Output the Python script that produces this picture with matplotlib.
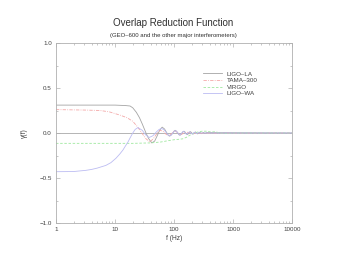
import matplotlib
matplotlib.use("Agg")
import matplotlib.pyplot as plt
from matplotlib.ticker import FixedLocator, FixedFormatter

plt.rcParams['font.family'] = ['Liberation Sans', 'DejaVu Sans']

# LIGO-LA
f_la = [1, 5, 10, 15, 18, 20, 23, 26, 29, 33.5, 37, 42, 47, 52, 57, 63, 69, 75, 80, 84, 89, 95,
        100, 105, 110, 116, 121, 126, 131, 137, 142, 147, 152, 158, 163, 168, 173, 179, 184, 189,
        194, 200, 210, 220, 231, 241, 252, 262, 273, 283, 294, 304, 315, 325, 336, 346, 357, 10000]
g_la = [0.31, 0.31, 0.31, 0.305, 0.30, 0.28, 0.23, 0.17, 0.10, 0.0, -0.06, -0.11, -0.09, -0.03,
        0.03, 0.065, 0.045, 0.005, -0.025, -0.035, -0.025, 0.0, 0.02, 0.03, 0.02, 0.0, -0.018,
        -0.025, -0.018, 0.0, 0.015, 0.02, 0.014, 0.0, -0.012, -0.017, -0.012, 0.0, 0.011, 0.015,
        0.01, 0.0, -0.013, 0.0, 0.012, 0.0, -0.01, 0.0, 0.009, 0.0, -0.008, 0.0, 0.007, 0.0,
        -0.006, 0.0, 0.005, 0.0]

# TAMA-300
f_tama = [1, 3, 5.6, 8, 12, 16, 20, 24, 28.5, 33, 39, 45, 52, 58, 65, 72, 80, 90, 100, 110, 120,
          135, 150, 170, 190, 10000]
g_tama = [0.26, 0.255, 0.25, 0.235, 0.2, 0.17, 0.13, 0.07, 0.0, -0.06, -0.10, -0.06, 0.0, 0.03,
          0.02, -0.01, -0.03, -0.01, 0.02, 0.015, -0.01, -0.015, 0.005, 0.008, -0.003, 0.0]

# VIRGO
f_virgo = [1, 20, 40, 60, 80, 100, 120, 140, 160, 180, 210, 250, 300, 360, 430, 500, 600, 800,
           1000, 10000]
g_virgo = [-0.115, -0.115, -0.11, -0.10, -0.085, -0.075, -0.07, -0.065, -0.05, -0.03, -0.005, 0.01,
           0.02, 0.02, 0.01, 0.015, 0.0, -0.005, 0.0, 0.0]

# LIGO-WA
f_wa = [1, 2, 3.2, 4, 5, 7, 8.5, 10.4, 12, 13.6, 15, 16.6, 18, 20, 22, 24.5, 29, 33, 38, 44, 50,
        56, 62, 68, 74, 80, 86, 92, 98, 104, 110, 116, 122, 128, 134, 140, 146, 152, 158, 164, 170,
        176, 182, 190, 198, 206, 214, 222, 232, 242, 252, 262, 272, 10000]
g_wa = [-0.43, -0.428, -0.415, -0.405, -0.39, -0.36, -0.33, -0.28, -0.235, -0.19, -0.145, -0.10,
        -0.055, 0.0, 0.04, 0.06, 0.03, -0.02, -0.05, -0.03, 0.01, 0.04, 0.05, 0.035, 0.005, -0.025,
        -0.03, -0.015, 0.01, 0.025, 0.02, 0.0, -0.02, -0.02, -0.005, 0.012, 0.017, 0.008, -0.008,
        -0.014, -0.008, 0.005, 0.012, 0.006, -0.008, -0.01, 0.0, 0.008, 0.0, -0.007, 0.0, 0.006,
        0.0, 0.0]

x_ticks = [1, 10, 100, 1000, 10000]
x_labels = ["1", "10", "100", "1000", "10000"]
y_ticks = [-1.0, -0.5, 0.0, 0.5, 1.0]
y_labels = ["\u22121.0", "\u22120.5", "0.0", "0.5", "1.0"]

fig = plt.figure(figsize=(3.39, 2.62), dpi=100)
ax = fig.add_axes([56/339, 1 - 223/262, (292-56)/339, (223-43)/262])

spine_c = '#b0b0b0'
ax.axhline(0, color='#a8a8a8', lw=0.6, zorder=1)
ax.plot(f_la, g_la, color='#a4a4a4', lw=0.6, label='LIGO\u2013LA')
ax.plot(f_tama, g_tama, color='#f4a8a8', lw=0.6, dashes=(4, 1.5, 1, 1.5), label='TAMA\u2013300')
ax.plot(f_virgo, g_virgo, color='#9ee89e', lw=0.6, dashes=(3, 2), label='VIRGO')
ax.plot(f_wa, g_wa, color='#bcbcf2', lw=0.6, label='LIGO\u2013WA')

ax.set_xscale('log')
ax.set_xlim(1, 10000)
ax.set_ylim(-1, 1)
ax.xaxis.set_major_locator(FixedLocator(x_ticks))
ax.xaxis.set_major_formatter(FixedFormatter(x_labels))
ax.yaxis.set_major_locator(FixedLocator(y_ticks))
ax.yaxis.set_major_formatter(FixedFormatter(y_labels))
ax.yaxis.set_minor_locator(FixedLocator([-0.75, -0.25, 0.25, 0.75]))
ax.tick_params(which='both', direction='in', top=True, right=True, colors=spine_c,
               labelcolor='#404040', labelsize=4.5, pad=3)
ax.tick_params(which='major', length=3, width=0.5)
ax.tick_params(which='minor', length=1.5, width=0.5)
for s in ax.spines.values():
    s.set_color(spine_c)
    s.set_linewidth(0.6)

ax.set_xlabel('f (Hz)', fontsize=4.8, color='#404040', labelpad=2)
ax.set_ylabel('\u03b3(f)', fontsize=4.8, color='#404040', labelpad=8)

fig.text(173/339, 1 - 23/262, 'Overlap Reduction Function', ha='center', va='center',
         fontsize=7, color='#303030')
fig.text(173/339, 1 - 36/262, '(GEO\u2013600 and the other major interferometers)', ha='center',
         va='center', fontsize=4.3, color='#303030')

leg = ax.legend(loc='upper left', bbox_to_anchor=((200-56)/236, (223-68)/180), frameon=False,
                fontsize=4.5, handlelength=3, handletextpad=0.8, labelspacing=0.2, borderpad=0)
for t in leg.get_texts():
    t.set_color('#404040')

fig.savefig('out.png', dpi=100)
